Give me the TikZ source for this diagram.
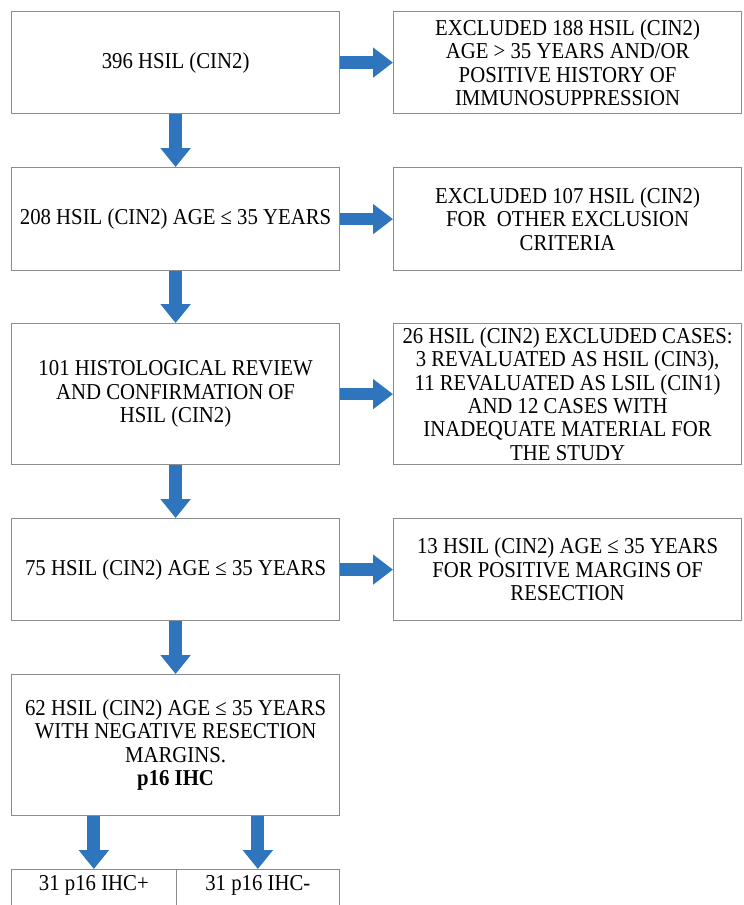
\documentclass[tikz,border=0pt]{standalone}
\usepackage{fontspec}
\setmainfont{Liberation Serif}[FakeStretch=0.915]
\usetikzlibrary{arrows.meta}
\definecolor{arrowblue}{RGB}{46,117,189}
\definecolor{boxgray}{RGB}{140,140,140}
\begin{document}
\begin{tikzpicture}[x=1pt,y=-1pt,
  box/.style={draw=boxgray, line width=1.2pt, fill=white, align=center,
    font=\fontsize{22.7}{23.4}\selectfont, inner sep=0pt, anchor=north west},
  harrow/.style={draw=arrowblue, line width=12.6pt,
    -{Triangle[length=20pt,width=29pt]}, arrowblue},
  varrow/.style={draw=arrowblue, line width=13pt,
    -{Triangle[length=19pt,width=29.3pt]}, arrowblue}
]
\useasboundingbox (0,0) rectangle (744,905);
% left column
\node[box, minimum width=328pt, minimum height=102pt] (L1) at (11,11) {396 HSIL (CIN2)};
\node[box, minimum width=328pt, minimum height=103pt] (L2) at (11,167) {208 HSIL (CIN2) AGE ≤ 35 YEARS};
\node[box, minimum width=328pt, minimum height=141pt] (L3) at (11,323) {101 HISTOLOGICAL REVIEW\\AND CONFIRMATION OF\\HSIL (CIN2)};
\node[box, minimum width=328pt, minimum height=102pt] (L4) at (11,518) {75 HSIL (CIN2) AGE ≤ 35 YEARS};
\node[box, minimum width=328pt, minimum height=141pt] (L5) at (11,674) {62 HSIL (CIN2) AGE ≤ 35 YEARS\\WITH NEGATIVE RESECTION\\MARGINS.\\\textbf{p16 IHC}};
% right column
\node[box, minimum width=348pt, minimum height=102pt] (R1) at (393,11) {EXCLUDED 188 HSIL (CIN2)\\AGE > 35 YEARS AND/OR\\POSITIVE HISTORY OF\\IMMUNOSUPPRESSION};
\node[box, minimum width=348pt, minimum height=103pt] (R2) at (393,167) {EXCLUDED 107 HSIL (CIN2)\\FOR\ \ OTHER EXCLUSION\\CRITERIA};
\node[box, minimum width=348pt, minimum height=141pt] (R3) at (393,323) {26 HSIL (CIN2) EXCLUDED CASES:\\3 REVALUATED AS HSIL (CIN3),\\11 REVALUATED AS LSIL (CIN1)\\AND 12 CASES WITH\\INADEQUATE MATERIAL FOR\\THE STUDY};
\node[box, minimum width=348pt, minimum height=102pt] (R4) at (393,518) {13 HSIL (CIN2) AGE ≤ 35 YEARS\\FOR POSITIVE MARGINS OF\\RESECTION};
% bottom boxes
\node[box, minimum width=164.5pt, minimum height=50pt, text height=15pt, text depth=23pt, inner ysep=6pt] (B1) at (11,869) {31 p16 IHC+};
\node[box, minimum width=163.5pt, minimum height=50pt, text height=15pt, text depth=23pt, inner ysep=6pt] (B2) at (175.5,869) {31 p16 IHC-};
% arrows
\draw[harrow] (L1.east) -- (R1.west);
\draw[harrow] (L2.east) -- (R2.west);
\draw[harrow] (L3.east) -- (R3.west);
\draw[harrow] (L4.east) -- (R4.west);
\draw[varrow] (L1.south) -- (L2.north);
\draw[varrow] (L2.south) -- (L3.north);
\draw[varrow] (L3.south) -- (L4.north);
\draw[varrow] (L4.south) -- (L5.north);
\draw[varrow] (B1.north |- L5.south) -- (B1.north);
\draw[varrow] (B2.north |- L5.south) -- (B2.north);
\end{tikzpicture}
\end{document}
